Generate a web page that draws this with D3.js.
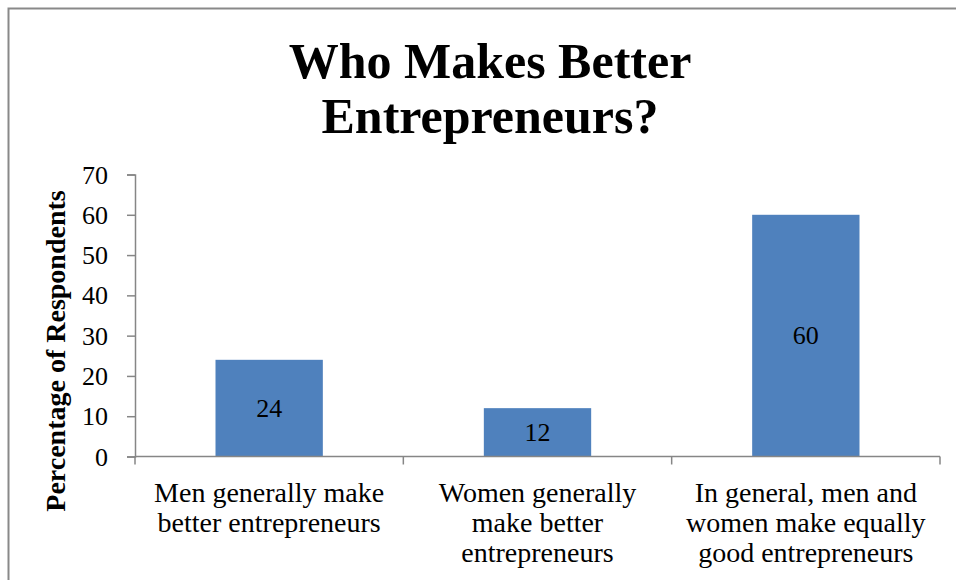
<!DOCTYPE html>
<html>
<head>
<meta charset="utf-8">
<script src="https://cdn.jsdelivr.net/npm/d3@7/dist/d3.min.js"></script>
<style>
  html, body { margin: 0; padding: 0; background: #fff; }
  svg { display: block; }
  text { font-family: "Liberation Serif", "DejaVu Serif", serif; fill: #000; }
</style>
</head>
<body>
<svg id="chart" width="956" height="580"></svg>
<script>
// Survey answers and share of respondents (%)
const categories = [
  ["Men generally make", "better entrepreneurs"],
  ["Women generally", "make better", "entrepreneurs"],
  ["In general, men and", "women make equally", "good entrepreneurs"]
];
const values = [24, 12, 60];
const yTicks = [0, 10, 20, 30, 40, 50, 60, 70];
const titleLines = ["Who Makes Better", "Entrepreneurs?"];
const yTitle = "Percentage of Respondents";

const svg = d3.select("#chart");
const W = 956, H = 580;
const plot = { left: 135, right: 940, top: 174.5, bottom: 456.5 };
const axisColor = "#868686";

// outer frame of the chart area
svg.append("rect")
  .attr("x", 8.5).attr("y", 8.5)
  .attr("width", W + 10).attr("height", H + 10)
  .attr("fill", "#fff")
  .attr("stroke", "#898989").attr("stroke-width", 2);

// title
svg.append("g").selectAll("text")
  .data(titleLines).join("text")
  .attr("x", 490)
  .attr("y", (d, i) => 78 + i * 55)
  .attr("text-anchor", "middle")
  .attr("font-weight", "bold")
  .attr("font-size", 50)
  .text(d => d);

const x = d3.scaleBand()
  .domain(d3.range(categories.length))
  .range([plot.left, plot.right])
  .paddingInner(0.6)
  .paddingOuter(0.3);

const xCat = d3.scaleBand()
  .domain(d3.range(categories.length))
  .range([plot.left, plot.right]);

const y = d3.scaleLinear()
  .domain([0, 70])
  .range([plot.bottom, plot.top]);

// bars
svg.append("g").selectAll("rect")
  .data(values).join("rect")
  .attr("x", (d, i) => x(i))
  .attr("width", x.bandwidth())
  .attr("y", d => y(d))
  .attr("height", d => y(0) - y(d))
  .attr("fill", "#4F81BD");

// value labels centred inside the bars
svg.append("g").selectAll("text")
  .data(values).join("text")
  .attr("x", (d, i) => x(i) + x.bandwidth() / 2)
  .attr("y", d => (y(d) + y(0)) / 2)
  .attr("dy", "0.33em")
  .attr("text-anchor", "middle")
  .attr("font-size", 26)
  .text(d => d);

// y axis
const yAxis = svg.append("g")
  .attr("transform", `translate(${plot.left},0)`)
  .call(d3.axisLeft(y).tickValues(yTicks).tickSize(8).tickPadding(19).tickFormat(d3.format("d")));
yAxis.select(".domain").attr("stroke", axisColor).attr("stroke-width", 1.5);
yAxis.selectAll(".tick line").attr("stroke", axisColor).attr("stroke-width", 1.5);
yAxis.selectAll(".tick text")
  .attr("font-size", 26)
  .attr("font-family", "Liberation Serif, serif")
  .attr("dy", "0.33em")
  .attr("fill", "#000");

// x axis with category separators
const xAxis = svg.append("g")
  .attr("transform", `translate(0,${plot.bottom})`);
xAxis.append("line")
  .attr("x1", plot.left).attr("x2", plot.right)
  .attr("stroke", axisColor).attr("stroke-width", 1.5);
xAxis.selectAll("line.sep")
  .data(d3.range(categories.length + 1)).join("line")
  .attr("class", "sep")
  .attr("x1", i => i < categories.length ? xCat(i) : plot.right)
  .attr("x2", i => i < categories.length ? xCat(i) : plot.right)
  .attr("y1", 0).attr("y2", 8)
  .attr("stroke", axisColor).attr("stroke-width", 1.5);

// category labels
const lbl = svg.append("g").selectAll("text")
  .data(categories).join("text")
  .attr("text-anchor", "middle")
  .attr("font-size", 28);
lbl.selectAll("tspan")
  .data((d, i) => d.map(s => ({ s, i })))
  .join("tspan")
  .attr("x", d => xCat(d.i) + xCat.bandwidth() / 2)
  .attr("y", (d, j) => 502 + j * 30)
  .text(d => d.s);

// y axis title
svg.append("text")
  .attr("transform", "translate(65,351) rotate(-90)")
  .attr("text-anchor", "middle")
  .attr("font-weight", "bold")
  .attr("font-size", 28)
  .text(yTitle);
</script>
</body>
</html>
